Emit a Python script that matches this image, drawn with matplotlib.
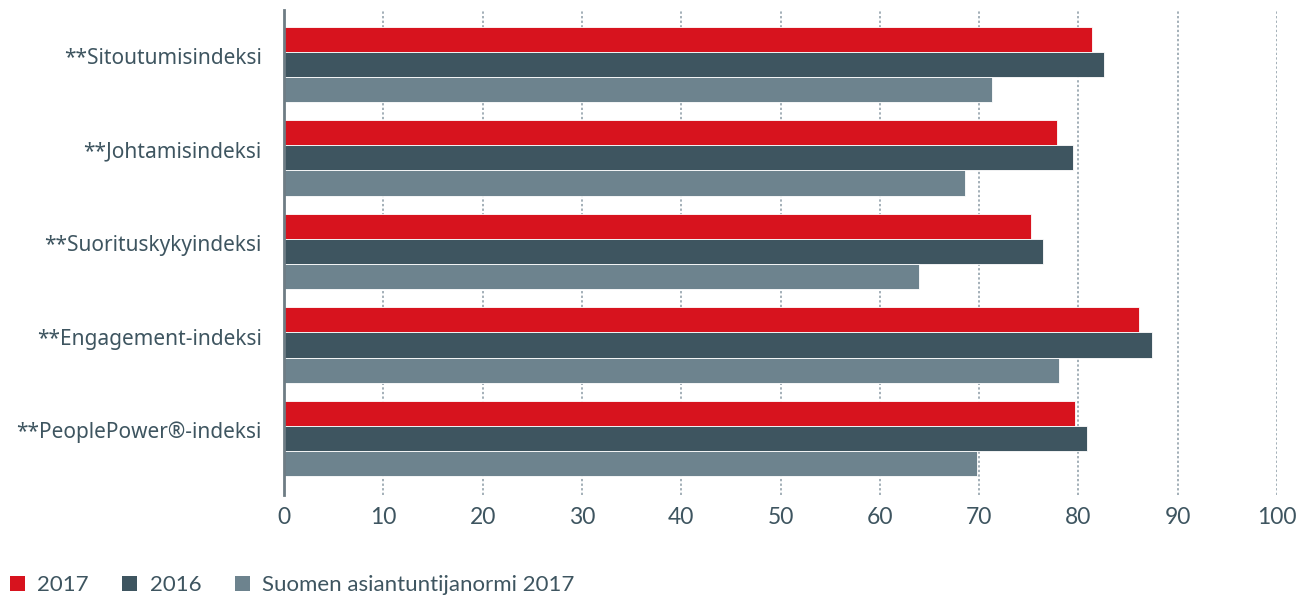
import matplotlib
matplotlib.use("Agg")
from matplotlib import pyplot as plt
from matplotlib.patches import Patch
import numpy as np

plt.rcParams['font.family'] = ['Lato', 'DejaVu Sans']

categories = ['**Sitoutumisindeksi', '**Johtamisindeksi', '**Suorituskykyindeksi',
              '**Engagement-indeksi', '**PeoplePower®-indeksi']
vals_2017 = [81.4, 77.8, 75.2, 86.1, 79.7]
vals_2016 = [82.6, 79.4, 76.4, 87.4, 80.9]
vals_norm = [71.3, 68.6, 63.9, 78.0, 69.8]
series_labels = ['2017', '2016', 'Suomen asiantuntijanormi 2017']
colors = ['#d7131e', '#3e5560', '#6d838e']
ticks = [0, 10, 20, 30, 40, 50, 60, 70, 80, 90, 100]

text_col = '#3e5560'

fig = plt.figure(figsize=(13.09, 5.96), dpi=100)
ax = fig.add_axes([0.217, 0.17, 0.7586, 0.813])

y = np.arange(len(categories))
h = 0.268
for i, (vals, c) in enumerate(zip([vals_2017, vals_2016, vals_norm], colors)):
    ax.barh(y - h + i * h, vals, height=h, color=c, edgecolor='white',
            linewidth=0.6, zorder=3)

ax.set_xlim(0, 100)
ax.set_ylim(4.6, -0.58)
ax.set_yticks(y - 0.09)
ax.set_yticklabels(categories, fontsize=15, color=text_col, family=['Noto Sans', 'DejaVu Sans'])
ax.set_xticks(ticks)
ax.set_xticklabels([str(t) for t in ticks], fontsize=16.5, color=text_col)
ax.tick_params(axis='both', length=0)
ax.tick_params(axis='y', pad=16)
ax.tick_params(axis='x', pad=9)

for t in ticks[1:]:
    ax.axvline(t, color='#8a9aa4', linestyle=(0, (1.5, 1.5)), linewidth=1.1, zorder=1)

for s in ['top', 'right', 'bottom']:
    ax.spines[s].set_visible(False)
ax.spines['left'].set_color('#6e7c84')
ax.spines['left'].set_linewidth(2)
ax.spines['left'].set_zorder(4)

handles = [Patch(facecolor=c, label=l) for c, l in zip(colors, series_labels)]
leg = fig.legend(handles=handles, loc='center left', bbox_to_anchor=(0.0076, 0.018), ncol=3,
                 frameon=False, fontsize=16, handlelength=0.68, handleheight=0.68,
                 handletextpad=0.55, columnspacing=1.5, labelcolor=text_col,
                 borderpad=0, borderaxespad=0)

fig.savefig('out.png', dpi=100)
